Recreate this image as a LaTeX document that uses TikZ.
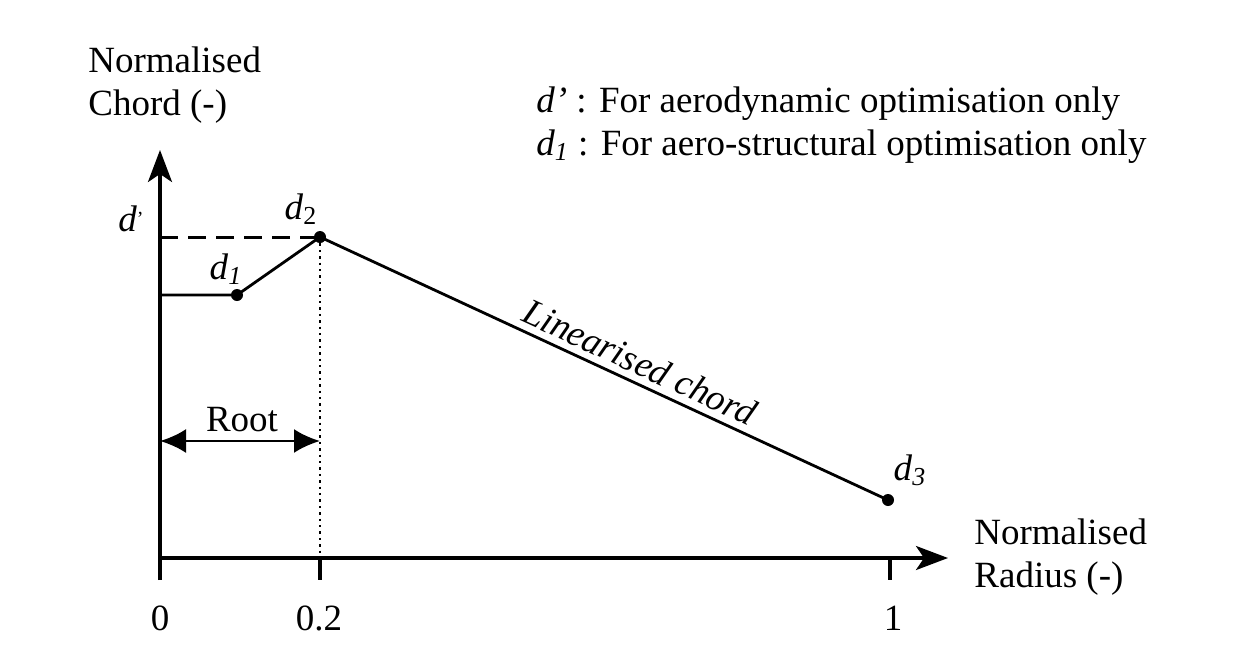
\documentclass[tikz,border=0pt]{standalone}
\usepackage{fontspec}
\setmainfont{Liberation Serif}
\usetikzlibrary{arrows.meta}
\tikzset{
  axis/.style={line width=1.6pt, -{Stealth[length=16pt, width=12pt, inset=4pt]}},
  tick/.style={line width=1.6pt},
  curve/.style={line width=1.4pt},
  pt/.style={circle, fill=black, inner sep=0pt, minimum size=6pt},
  lbl/.style={font=\fontsize{18.5}{21.5}\selectfont, inner sep=1pt},
}
\begin{document}
\begin{tikzpicture}[x=0.5pt, y=-0.5pt]
\useasboundingbox (0,0) rectangle (1237,659);
% Axes
\coordinate (o) at (160,558);
\coordinate (ybot) at (160,580);
\coordinate (ytop) at (160,150);
\coordinate (xend) at (948,558);
\draw[axis] (ybot) -- (ytop);
\draw[axis] (o) -- (xend);

% Ticks
\coordinate (t2) at (320,558);
\coordinate (t2b) at (320,580);
\coordinate (t1) at (890,558);
\coordinate (t1b) at (890,580);
\draw[tick] (t2) -- (t2b);
\draw[tick] (t1) -- (t1b);
\node[lbl] (l0) at (160,618) {0};
\node[lbl] (l02) at (319,618) {0.2};
\node[lbl] (l1) at (893,618) {1};

% Chord points
\coordinate (root) at (160,295);
\coordinate (dtick) at (160,237);
\node[pt] (d1) at (237,295) {};
\node[pt] (d2) at (320,237) {};
\node[pt] (d3) at (888,500) {};
\draw[curve] (root) -- (d1.center) -- (d2.center) -- (d3.center);
\draw[line width=1.5pt, dash pattern=on 9pt off 5pt] (dtick) -- (d2.center);
\draw[line width=1.2pt, dotted] (d2.center) -- (t2);

% Point labels
\node[lbl] (ldp) at (131,219) {\textit{d}\raisebox{3pt}{\fontsize{10}{10}\selectfont’}};
\node[lbl] (ld1) at (226,269) {\textit{d}\textsubscript{\textit{1}}};
\node[lbl] (ld2) at (301,209) {\textit{d}\textsubscript{2}};
\node[lbl] (ld3) at (910,470) {\textit{d}\textsubscript{\textit{3}}};
\node[lbl, rotate=-24.8] (lin) at (640,362) {\textit{Linearised chord}};

% Root span
\coordinate (ra) at (160,441);
\coordinate (rb) at (320,441);
\draw[line width=1.4pt, {Latex[length=13pt, width=12pt]}-{Latex[length=13pt, width=12pt]}] (ra) -- (rb);
\node[lbl] (rootlbl) at (242,420) {Root};

% Axis titles
\node[lbl, align=left, anchor=north west] (ytitle) at (86,44) {Normalised\\Chord (-)};
\node[lbl, align=left, anchor=north west] (xtitle) at (972,516) {Normalised\\Radius (-)};

% Legend
\node[lbl, align=left, anchor=north west] (legend) at (534,84) {\textit{d’} : For aerodynamic optimisation only\\\textit{d}\textsubscript{\textit{1}} : For aero-structural optimisation only};
\end{tikzpicture}
\end{document}
